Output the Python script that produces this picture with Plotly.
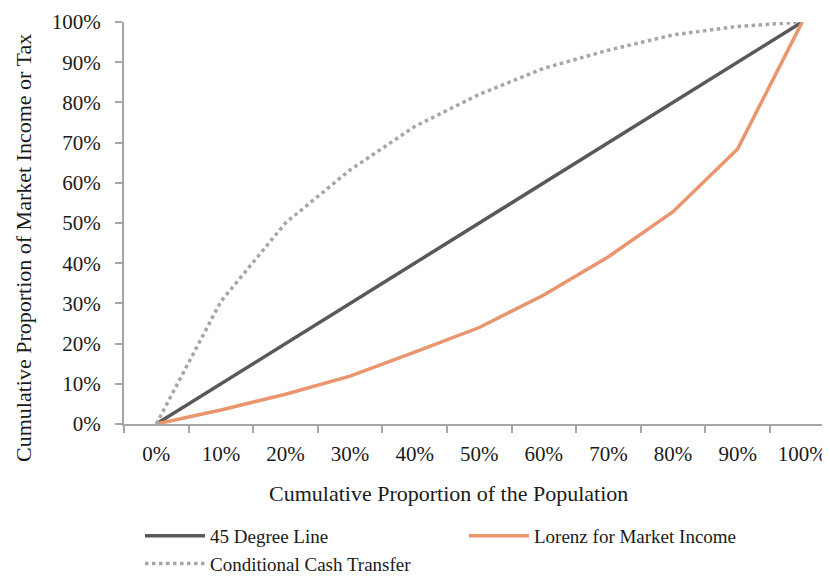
import plotly.graph_objects as go

# Cumulative proportion of the population (categories)
population = ["0%", "10%", "20%", "30%", "40%", "50%", "60%", "70%", "80%", "90%", "100%"]

# Cumulative shares
line_45 = [0.0, 0.10, 0.20, 0.30, 0.40, 0.50, 0.60, 0.70, 0.80, 0.90, 1.00]
lorenz_market = [0.0, 0.035, 0.074, 0.119, 0.179, 0.240, 0.321, 0.416, 0.528, 0.684, 1.00]
cash_transfer = [0.0, 0.305, 0.50, 0.632, 0.740, 0.820, 0.885, 0.930, 0.968, 0.989, 1.00]

FONT = "Liberation Serif, Times New Roman, Times, serif"
AXIS_GREY = "#a6a6a6"

# the page body adds an 8px margin, so the figure is drawn 8px smaller
W, H, OFF = 830 - 8, 577 - 8, 8
PLOT_L, PLOT_T, PLOT_B = 124 - OFF, 22 - OFF, 424 - OFF
PLOT_W, PLOT_H = W - PLOT_L, PLOT_B - PLOT_T

fig = go.Figure()
fig.add_trace(go.Scatter(x=population, y=line_45, mode="lines", name="45 Degree Line",
                         line=dict(color="#595959", width=3.5)))
fig.add_trace(go.Scatter(x=population, y=lorenz_market, mode="lines", name="Lorenz for Market Income",
                         line=dict(color="#e9966f", width=3.5)))
fig.add_trace(go.Scatter(x=population, y=cash_transfer, mode="lines", name="Conditional Cash Transfer",
                         line=dict(color="#a6a6a6", width=3.5, dash="dot")))

fig.update_layout(
    width=W, height=H,
    margin=dict(l=PLOT_L, r=0, t=PLOT_T, b=H - PLOT_B, autoexpand=False),
    plot_bgcolor="white", paper_bgcolor="white",
    font=dict(family=FONT, size=22, color="#1a1a1a"),
    showlegend=True,
    legend=dict(orientation="h", x=16 / PLOT_W, xanchor="left",
                yref="container", y=1 - 509 / H, yanchor="top",
                entrywidth=249, entrywidthmode="pixels", itemwidth=60,
                font=dict(size=19), tracegroupgap=0),
)
fig.update_xaxes(
    type="category", range=[-0.5, 10.43], tickson="boundaries", automargin=False,
    showline=True, linecolor=AXIS_GREY, linewidth=2,
    ticks="outside", ticklen=7, tickcolor=AXIS_GREY, tickwidth=2,
    showgrid=False, zeroline=False, ticklabelstandoff=10, tickfont=dict(size=21),
)
fig.update_yaxes(
    range=[0, 1], dtick=0.1, tickformat=".0%", automargin=False,
    showline=True, linecolor=AXIS_GREY, linewidth=2,
    ticks="outside", ticklen=7, tickcolor=AXIS_GREY, tickwidth=2,
    showgrid=False, zeroline=False, ticklabelstandoff=10, tickfont=dict(size=21),
)

# Axis titles placed as annotations (positioned like the original)
fig.add_annotation(text="Cumulative Proportion of the Population", xref="paper", yref="paper",
                   x=(448 - 124) / PLOT_W, y=-(493 - 424) / PLOT_H, xanchor="center", yanchor="middle",
                   showarrow=False)
fig.add_annotation(text="Cumulative Proportion of Market Income or Tax", xref="paper", yref="paper",
                   x=-(124 - 23) / PLOT_W, y=(424 - 248) / PLOT_H, xanchor="center", yanchor="middle",
                   textangle=-90, showarrow=False)

fig.write_html("out.html")
